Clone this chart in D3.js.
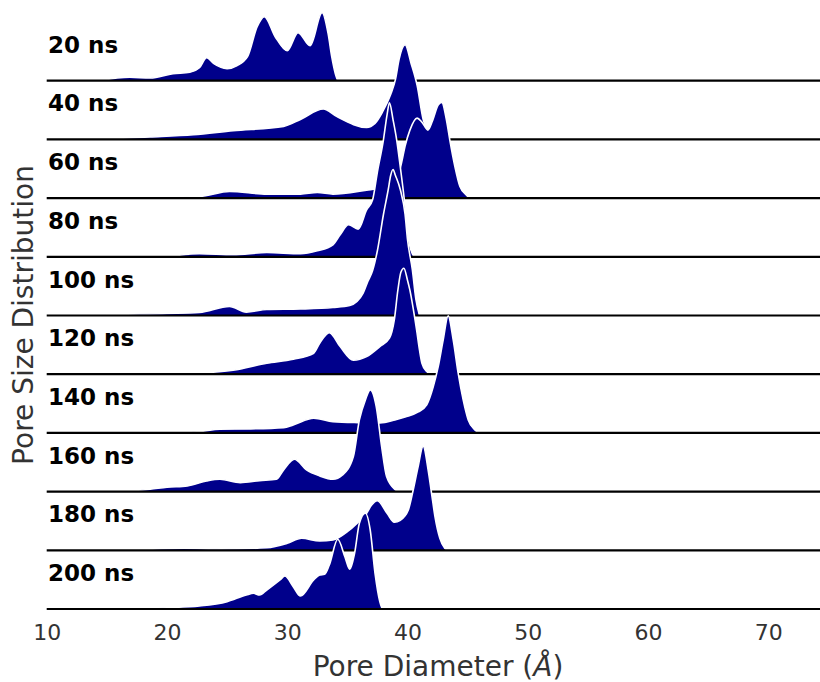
<!DOCTYPE html>
<html>
<head>
<meta charset="utf-8">
<script src="https://cdn.jsdelivr.net/npm/d3@7"></script>
<style>
    body { margin: 0; background: #fff; }
    svg { display: block; font-family: 'DejaVu Sans', sans-serif; }
</style>
</head>
<body>
<div id="chart"></div>
<script>
// Simulation times, one ridge per row (top to bottom)
const rowLabels = ['20 ns', '40 ns', '60 ns', '80 ns', '100 ns', '120 ns', '140 ns', '160 ns', '180 ns', '200 ns'];

// Pore size distributions: [pore diameter (Å), density (a.u.)]
const ns20 = [[14.4,0],[16.9,0.34],[18.6,0.27],[20.5,0.7],[21.9,0.85],[22.7,1.3],[23.3,2.3],[23.9,1.7],[25.0,1.2],[25.8,1.5],[26.7,2.4],[27.5,5.4],[28.1,6.4],[29.0,4.4],[30.0,3.0],[30.9,4.8],[31.9,3.5],[32.9,6.8],[33.4,4.7],[33.7,2.4],[34.0,0.7],[34.2,0]];
const ns40 = [[13.9,0],[18.6,0.24],[22.2,0.47],[25.5,0.87],[29.7,1.3],[31.1,2.0],[33.0,3.04],[34.1,2.3],[36.6,1.2],[37.3,1.6],[37.9,2.7],[38.6,4.5],[39.0,6.0],[39.3,8.0],[39.8,9.47],[40.3,7.6],[40.8,5.4],[41.3,2.0],[41.8,0.5],[42.2,0]];
const ns60 = [[14.4,0],[22.7,0.16],[25.2,0.66],[28.3,0.4],[31.1,0.4],[32.5,0.56],[33.8,0.4],[36.6,0.8],[37.7,1.0],[38.6,1.4],[39.2,2.2],[39.5,3.5],[39.8,5.2],[40.2,6.8],[40.8,8.0],[41.2,7.6],[41.7,6.8],[42.1,7.8],[42.55,9.3],[42.85,9.56],[43.24,7.8],[43.52,5.8],[43.94,3.16],[44.36,1.16],[44.9,0.3],[45.2,0]];
const ns80 = [[20.0,0],[22.7,0.3],[25.5,0.2],[28.3,0.43],[31.1,0.3],[32.5,0.6],[33.8,1.2],[34.4,2.2],[35.1,3.2],[35.9,2.77],[36.6,4.7],[37.1,5.7],[37.5,8.5],[38.0,11.7],[38.3,14.2],[38.5,15.4],[38.8,13.7],[39.1,11.7],[39.4,9.0],[39.8,5.0],[40.0,2.5],[40.4,0.3],[40.6,0]];
const ns100 = [[13.5,0],[14.4,0.05],[20.0,0.2],[22.7,0.3],[25.2,0.9],[26.6,0.34],[28.3,0.6],[31.1,0.65],[33.8,0.8],[35.2,1.0],[35.8,1.4],[36.3,2.2],[36.7,3.4],[37.1,4.5],[37.5,6.5],[38.0,10.1],[38.4,12.6],[38.6,14.0],[38.8,14.6],[39.0,14.0],[39.4,12.6],[39.8,10.1],[40.0,7.6],[40.4,4.6],[40.7,1.6],[41.0,0]];
const ns120 = [[20.0,0],[22.7,0.1],[25.5,0.4],[28.3,1.1],[30.5,1.5],[32.2,2.1],[32.7,3.1],[33.5,4.16],[34.4,2.76],[35.5,1.4],[36.6,1.76],[37.7,2.76],[38.5,3.6],[38.9,5.4],[39.2,8.4],[39.45,10.2],[39.7,10.6],[40.0,9.4],[40.2,8.4],[40.47,6.6],[40.76,4.4],[41.0,2.4],[41.2,1.1],[41.6,0.26],[41.9,0]];
const ns140 = [[20.0,0],[22.7,0.13],[24.4,0.37],[26.9,0.4],[29.7,0.53],[30.5,0.8],[32.2,1.47],[33.8,1.13],[35.9,1.03],[37.7,1.0],[38.95,1.3],[39.8,1.6],[40.9,2.1],[41.6,2.8],[42.14,4.6],[42.55,6.6],[42.97,9.3],[43.38,11.7],[43.8,9.3],[44.21,6.0],[44.63,3.3],[45.05,1.3],[45.6,0.3],[46.0,0]];
const ns160 = [[15.3,0],[18.6,0.24],[20.0,0.44],[21.7,0.57],[23.3,1.07],[24.4,1.24],[26.1,0.9],[27.7,1.1],[29.1,1.24],[29.7,2.17],[30.6,3.24],[31.6,2.17],[32.7,1.57],[33.8,1.24],[34.6,1.67],[35.5,3.5],[36.0,7.17],[36.5,9.17],[36.9,10.17],[37.4,8.5],[37.85,4.5],[38.26,1.5],[39.0,0.17],[39.2,0]];
const ns180 = [[17.2,0],[21.4,0.2],[24.5,0.13],[28.3,0.26],[30.0,0.7],[31.2,1.2],[32.7,0.93],[33.8,1.03],[35.0,1.86],[35.8,2.7],[36.6,3.7],[37.0,4.5],[37.5,4.96],[38.3,3.7],[38.9,2.8],[39.4,3.0],[40.06,4.0],[40.47,6.0],[40.89,8.4],[41.3,10.4],[41.72,8.0],[42.0,5.7],[42.28,3.4],[42.69,1.2],[43.1,0.2],[43.3,0]];
const ns200 = [[15.8,0],[20.0,0.13],[22.7,0.3],[25.0,0.73],[26.6,1.4],[27.2,1.57],[27.7,1.4],[28.3,1.9],[29.4,2.9],[29.8,3.3],[30.5,2.23],[31.1,1.3],[32.2,2.9],[32.7,3.4],[33.1,3.47],[33.5,4.4],[34.2,6.97],[34.8,5.2],[35.2,3.97],[35.6,5.57],[36.0,8.57],[36.5,9.57],[36.9,7.9],[37.3,3.57],[37.7,0.73],[37.9,0]];

const seriesValues = [ns20, ns40, ns60, ns80, ns100, ns120, ns140, ns160, ns180, ns200];

// x axis tick labels
const xTicks = [10, 20, 30, 40, 50, 60, 70];

/**
 * Ridgeline (joy) plot of pore size distributions over time
 */
class RidgePlot {

    constructor(_config, _data) {
        this.config = {
            parentElement: _config.parentElement,
            containerWidth: _config.containerWidth || 820,
            containerHeight: _config.containerHeight || 682,
            firstBaseline: 80.7,   // y of the top row's zero line
            lastBaseline: 609,     // y of the bottom row's zero line
            left: 46.7
        }
        this.data = _data;
        this.initVis();
    }

    initVis() {
        let vis = this;

        vis.svg = d3.select(vis.config.parentElement)
            .append('svg')
            .attr('width', vis.config.containerWidth)
            .attr('height', vis.config.containerHeight);

        // Å -> px; the axis runs off the right edge a bit past 70
        vis.xScale = d3.scaleLinear()
            .domain([10, 74.3])
            .range([vis.config.left, vis.config.containerWidth]);

        // one baseline per row
        vis.rowScale = d3.scalePoint()
            .domain(rowLabels)
            .range([vis.config.firstBaseline, vis.config.lastBaseline]);

        // density -> offset above the row baseline (rows overlap a lot)
        vis.hScale = d3.scaleLinear()
            .domain([0, 10])
            .range([0, -100]);

        vis.area = d3.area()
            .x(d => vis.xScale(d[0]))
            .y0(0)
            .y1(d => vis.hScale(d[1]))
            .curve(d3.curveMonotoneX);

        vis.line = d3.line()
            .x(d => vis.xScale(d[0]))
            .y(d => vis.hScale(d[1]))
            .curve(d3.curveMonotoneX);

        // x axis, no ticks and no domain line, only labels
        vis.xAxis = d3.axisBottom(vis.xScale)
            .tickValues(xTicks)
            .tickSize(0)
            .tickPadding(15.4);

        // axis titles
        vis.svg.append('text')
            .attr('class', 'axis-label')
            .attr('text-anchor', 'middle')
            .attr('x', 438)
            .attr('y', 675.5)
            .attr('font-size', 28)
            .attr('fill', '#333')
            .html('Pore Diameter (<tspan font-style="italic">Å</tspan>)');

        vis.svg.append('text')
            .attr('class', 'axis-label')
            .attr('text-anchor', 'middle')
            .attr('transform', 'translate(33.3, 315) rotate(-90)')
            .attr('font-size', 28)
            .attr('fill', '#333')
            .text('Pore Size Distribution');
    }

    updateVis() {
        let vis = this;

        // later rows are drawn on top of earlier ones
        const rows = vis.svg.selectAll('.ridge')
            .data(vis.data)
            .join('g')
            .attr('class', 'ridge')
            .attr('transform', d => `translate(0, ${vis.rowScale(d.label)})`);

        rows.append('path')
            .attr('class', 'ridge-fill')
            .attr('fill', '#00008b')
            .attr('d', d => vis.area(d.values));

        rows.append('path')
            .attr('class', 'ridge-outline')
            .attr('fill', 'none')
            .attr('stroke', '#fff')
            .attr('stroke-width', 1.6)
            .attr('stroke-linejoin', 'round')
            .attr('d', d => vis.line(d.values));

        rows.append('line')
            .attr('class', 'ridge-base')
            .attr('x1', vis.xScale.range()[0])
            .attr('x2', vis.xScale.range()[1])
            .attr('stroke', '#000')
            .attr('stroke-width', 2.2);

        rows.append('text')
            .attr('class', 'ridge-label')
            .attr('x', vis.config.left + 1.3)
            .attr('y', -28)
            .attr('font-size', 23)
            .attr('font-weight', 'bold')
            .attr('fill', '#000')
            .text(d => d.label);

        const axisG = vis.svg.append('g')
            .attr('class', 'x-axis')
            .attr('transform', `translate(0, ${vis.config.lastBaseline})`)
            .call(vis.xAxis);
        axisG.select('.domain').remove();
        axisG.selectAll('text')
            .attr('font-size', 22)
            .attr('font-family', "'DejaVu Sans', sans-serif")
            .attr('fill', '#333');
    }
}

const ridgeData = rowLabels.map((label, i) => ({ label: label, values: seriesValues[i] }));
const plot = new RidgePlot({ parentElement: '#chart' }, ridgeData);
plot.updateVis();
</script>
</body>
</html>
